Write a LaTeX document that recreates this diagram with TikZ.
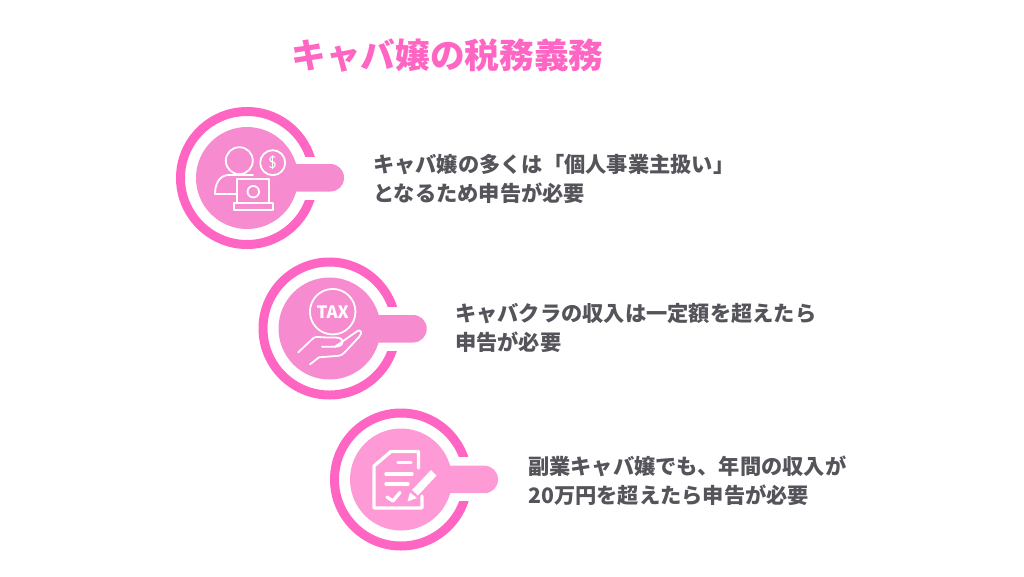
\documentclass[tikz,border=0pt]{standalone}
\usepackage{fontspec}
\newfontfamily\jpfont{Noto Sans CJK JP}
\definecolor{ringpink}{HTML}{FF66C4}
\definecolor{discpink}{HTML}{F68BCF}
\definecolor{disclight}{HTML}{FE9AD5}
\definecolor{bodygray}{HTML}{54545A}
\tikzset{
  ringnode/.style={circle,draw=ringpink,line width=9pt,inner sep=0pt,outer sep=0pt,minimum size=133pt},
  discnode/.style={circle,fill=#1,inner sep=0pt,outer sep=0pt,minimum size=102pt},
  bodytext/.style={anchor=west,align=left,inner sep=0pt,text=bodygray,font=\jpfont\bfseries\fontsize{21.25}{29}\selectfont},
  iconline/.style={draw=white,line width=1.8pt,line cap=round,line join=round},
  iconthick/.style={draw=white,line width=3.3pt,line cap=round,line join=round},
}
\begin{document}
\begin{tikzpicture}[x=1pt,y=-1pt]
      \useasboundingbox (0,0) rectangle (1024,576);%

      \node[inner sep=0pt,text=ringpink,font=\jpfont\bfseries\fontsize{34.7}{40}\selectfont] (TT) at (447.5,56) {キャバ嬢の税務義務};%

      % first row
      \node[ringnode] (R1) at (247,178) {};%
      \fill[white] (290,157) rectangle (325,200);%
      \fill[discpink,rounded corners=13.5pt] (247,164) rectangle (344,191.5);%
      \node[discnode=discpink] (D1) at (247,178) {};%
      \node[bodytext] (T1) at (373,179) {キャバ嬢の多くは「個人事業主扱い」\\となるため申告が必要};%

      \node[circle,iconline,inner sep=0pt,minimum size=27pt] (HD) at (239.3,160.7) {};%
      \node[circle,iconline,inner sep=0pt,minimum size=25pt,text=white,font=\sffamily\fontsize{17}{17}\selectfont] (DL) at (272.7,162.7) {\$};%
      \draw[iconline] (237.3,194) -- (215,194) .. controls (215,183) and (220,175) .. (229,175) -- (253,175);%
      \draw[iconline,fill=discpink] (237.3,179) rectangle (269.3,203.3);%
      \node[circle,iconline,inner sep=0pt,minimum size=11.5pt] (LC) at (253.3,191.7) {};%
      \draw[iconline] (234,203.3) rectangle (273.3,209.7);%

      % second row
      \node[ringnode] (R2) at (329.5,328.5) {};%
      \fill[white] (372,307) rectangle (408,350.5);%
      \fill[discpink,rounded corners=13.5pt] (329.5,315) rectangle (426.7,342.5);%
      \node[discnode=discpink] (D2) at (329.5,328.5) {};%
      \node[bodytext] (T2) at (455,327.5) {キャバクラの収入は一定額を超えたら\\申告が必要};%

      \node[circle,iconline,inner sep=0pt,minimum size=45.5pt,text=white,font=\jpfont\bfseries\fontsize{17}{17}\selectfont] (TX) at (332.7,311.7) {TAX};%
      \draw[iconline] (298.3,352.3) -- (313,338.3) .. controls (316,335.5) and (320,338) .. (335,337.5) .. controls (345,337) and (345,346.7) .. (335,346.7) -- (322,346.7);%
      \draw[iconline] (335,346.7) -- (356,332) .. controls (361,328) and (363,333) .. (359,337) -- (345,352) .. controls (342,355) and (340,356) .. (336,356) -- (319,357.3) -- (310,364.3);%

      % third row
      \node[ringnode] (R3) at (401,479.5) {};%
      \fill[white] (443,457) rectangle (480,501);%
      \fill[disclight,rounded corners=13.5pt] (401,465.7) rectangle (498,493.2);%
      \node[discnode=disclight] (D3) at (401,479.5) {};%
      \node[bodytext] (T3) at (528,481) {副業キャバ嬢でも、年間の収入が\\20万円を超えたら申告が必要};%

      \draw[iconthick] (418.5,468) -- (418.5,451.5) -- (391,451.5) -- (374,466) -- (374,508) -- (422,508) -- (422,496);%
      \draw[iconthick] (398,462.3) -- (411,462.3);%
      \draw[iconthick] (386,474) -- (412,474);%
      \draw[iconthick] (386,484) -- (408,484);%
      \draw[iconthick] (387,497) -- (393,501) -- (400,492.5);%
      \fill[white] (431,470) -- (436.5,475.5) -- (418,495.5) -- (412,490) -- cycle;%
      \fill[white] (410,492.5) -- (417,498) -- (407.5,501.5) -- cycle;%
\end{tikzpicture}
\end{document}
